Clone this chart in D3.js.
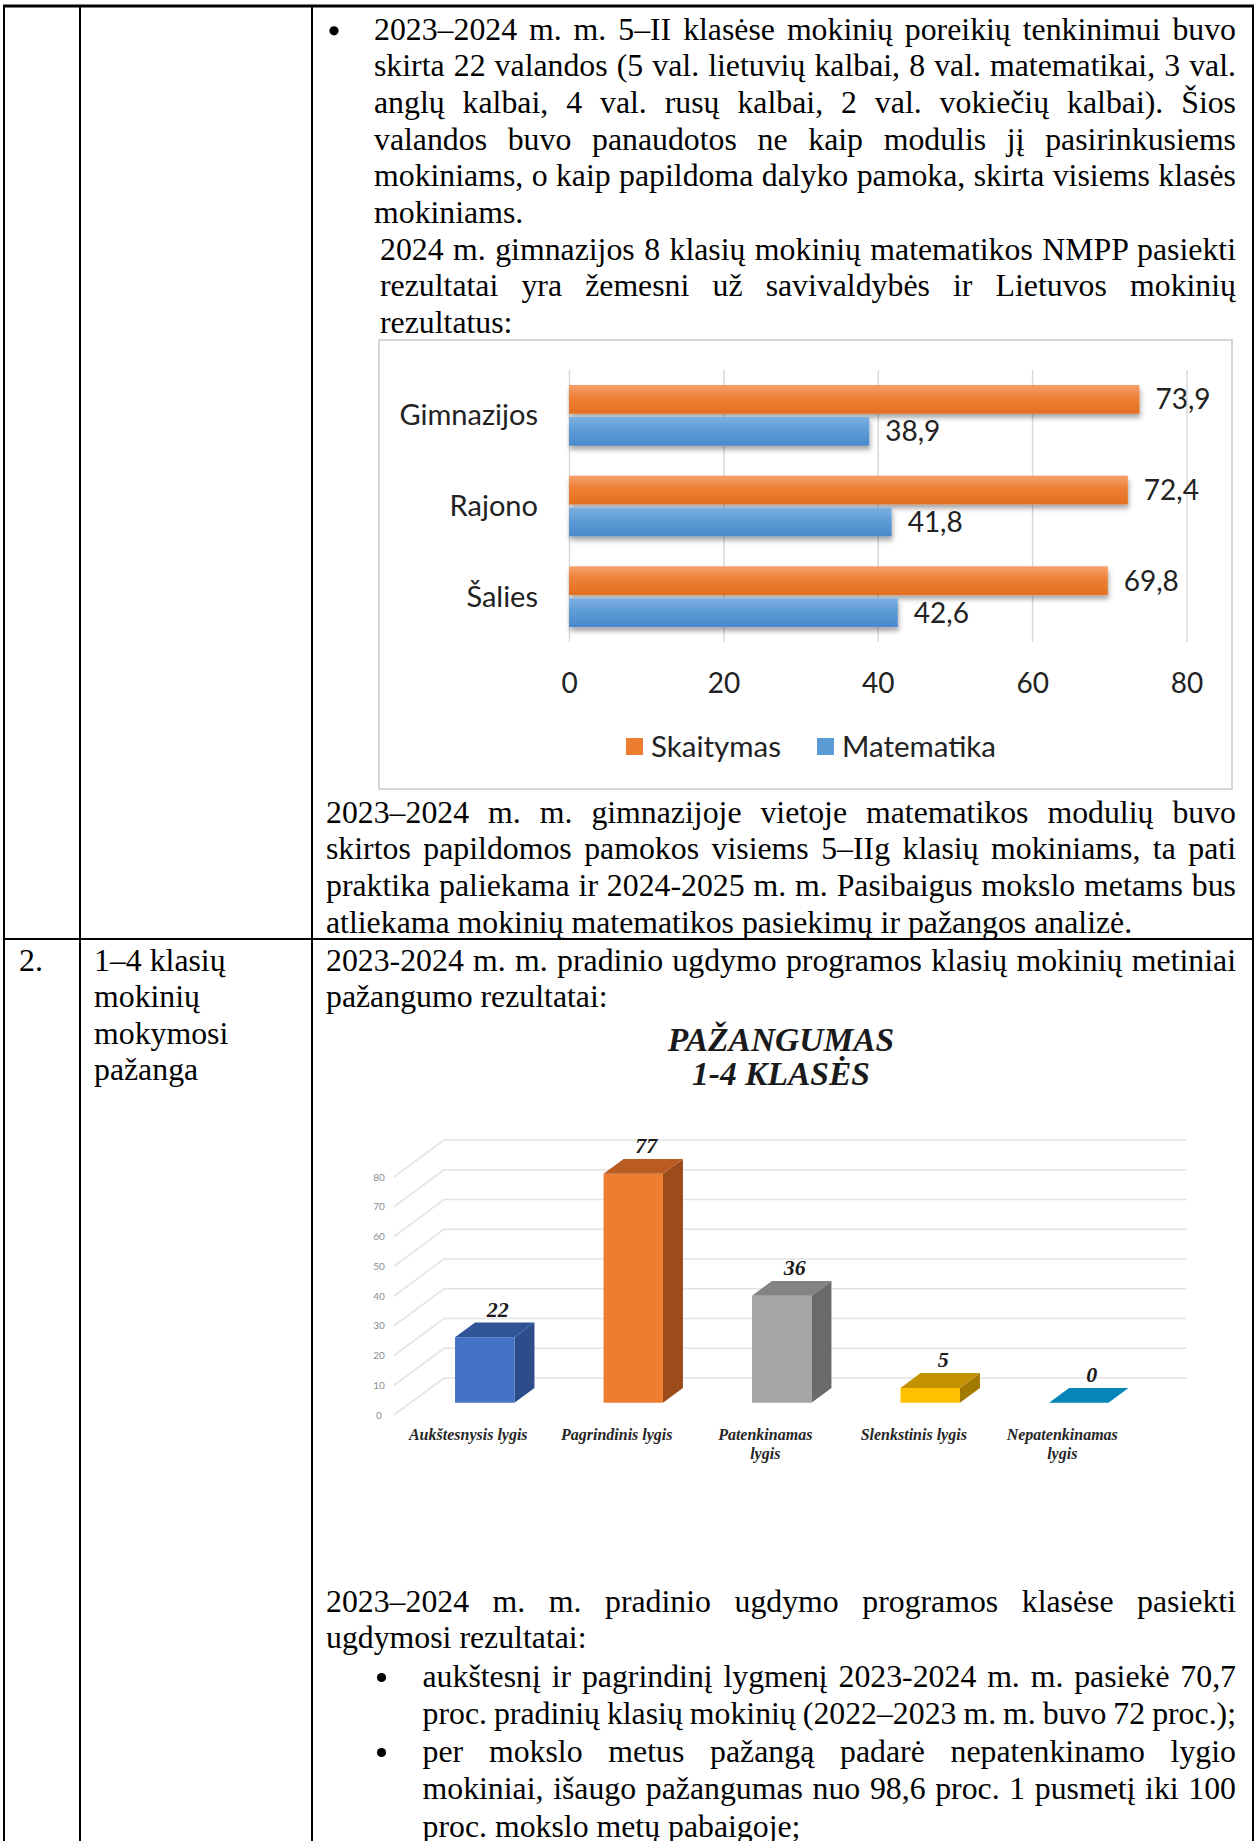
<!DOCTYPE html>
<html>
<head>
<meta charset="utf-8">
<script src="https://cdn.jsdelivr.net/npm/d3@7"></script>
<style>
  html, body { margin: 0; padding: 0; background: #fff; }
  svg { display: block; }
</style>
</head>
<body>
<script>
// ---- chart 1 data (NMPP results)
const cats1 = ["Gimnazijos", "Rajono", "Šalies"];
const series1 = ["Skaitymas", "Matematika"];
const skaitymas = [73.9, 72.4, 69.8];
const matematika = [38.9, 41.8, 42.6];
const ticks1 = [0, 20, 40, 60, 80];

// ---- chart 2 data (pažangumas 1-4 klasės)
const cats2 = ["Aukštesnysis lygis", "Pagrindinis lygis", "Patenkinamas lygis", "Slenkstinis lygis", "Nepatenkinamas lygis"];
const catLines2 = [["Aukštesnysis lygis"], ["Pagrindinis lygis"], ["Patenkinamas", "lygis"], ["Slenkstinis lygis"], ["Nepatenkinamas", "lygis"]];
const values2 = [22, 77, 36, 5, 0];
const ticks2 = [0, 10, 20, 30, 40, 50, 60, 70, 80];

// ---- document text
const para1 = [
  "2023–2024 m. m. 5–II klasėse mokinių poreikių tenkinimui buvo",
  "skirta 22 valandos (5 val. lietuvių kalbai, 8 val. matematikai, 3 val.",
  "anglų kalbai, 4 val. rusų kalbai, 2 val. vokiečių kalbai). Šios",
  "valandos buvo panaudotos ne kaip modulis jį pasirinkusiems",
  "mokiniams, o kaip papildoma dalyko pamoka, skirta visiems klasės",
  "mokiniams."
];
const para2 = [
  "2024 m. gimnazijos 8 klasių mokinių matematikos NMPP pasiekti",
  "rezultatai yra žemesni už savivaldybės ir Lietuvos mokinių",
  "rezultatus:"
];
const para3 = [
  "2023–2024 m. m. gimnazijoje vietoje matematikos modulių buvo",
  "skirtos papildomos pamokos visiems 5–IIg klasių mokiniams, ta pati",
  "praktika paliekama ir 2024-2025 m. m. Pasibaigus mokslo metams bus",
  "atliekama mokinių matematikos pasiekimų ir pažangos analizė."
];
const rowNo = "2.";
const rowTitle = ["1–4 klasių", "mokinių", "mokymosi", "pažanga"];
const para4 = [
  "2023-2024 m. m. pradinio ugdymo programos klasių mokinių metiniai",
  "pažangumo rezultatai:"
];
const para5 = [
  "2023–2024 m. m. pradinio ugdymo programos klasėse pasiekti",
  "ugdymosi rezultatai:"
];
const bullet1 = [
  "aukštesnį ir pagrindinį lygmenį 2023-2024 m. m. pasiekė 70,7",
  "proc. pradinių klasių mokinių (2022–2023 m. m. buvo 72 proc.);"
];
const bullet2 = [
  "per mokslo metus pažangą padarė nepatenkinamo lygio",
  "mokiniai, išaugo pažangumas nuo 98,6 proc. 1 pusmetį iki 100",
  "proc. mokslo metų pabaigoje;"
];

const W = 1257, H = 1841;
const serif = "'Liberation Serif', 'Times New Roman', serif";
const sans = "Lato, 'Noto Sans', sans-serif";

const svg = d3.select("body").append("svg")
  .attr("width", W).attr("height", H);

const defs = svg.append("defs");
function grad(id, stops) {
  const g = defs.append("linearGradient").attr("id", id)
    .attr("x1", 0).attr("y1", 0).attr("x2", 0).attr("y2", 1);
  stops.forEach(s => g.append("stop").attr("offset", s[0]).attr("stop-color", s[1]));
}
grad("gOr", [[0, "#F4A16C"], [0.45, "#EE7F35"], [1, "#E26F1F"]]);
grad("gBl", [[0, "#7DB0E2"], [0.45, "#5D9CD6"], [1, "#4A89CB"]]);
defs.append("filter").attr("id", "shd").attr("x", "-5%").attr("y", "-20%").attr("width", "115%").attr("height", "160%")
  .append("feDropShadow").attr("dx", 1).attr("dy", 4).attr("stdDeviation", 2.5)
  .attr("flood-color", "#000").attr("flood-opacity", 0.35);

// ---- table lines
const grid = svg.append("g").attr("stroke", "#000");
grid.append("line").attr("x1", 3).attr("x2", 1254).attr("y1", 6).attr("y2", 6).attr("stroke-width", 3);
grid.append("line").attr("x1", 4).attr("x2", 1253).attr("y1", 939).attr("y2", 939).attr("stroke-width", 2);
[4, 80, 312, 1253].forEach(x => {
  grid.append("line").attr("x1", x).attr("x2", x).attr("y1", 5).attr("y2", H).attr("stroke-width", 2);
});

// ---- text
const doc = svg.append("g")
  .attr("font-family", serif).attr("font-size", 31.8).attr("fill", "#000");

function block(lines, x, ys, right, lastJustify) {
  lines.forEach((t, i) => {
    const el = doc.append("text").attr("x", x).attr("y", ys[i]).text(t);
    if (right && (i < lines.length - 1 || lastJustify)) {
      const w = el.node().getComputedTextLength();
      const gaps = (t.match(/ /g) || []).length;
      if (gaps) el.attr("word-spacing", (right - x - w) / gaps);
    }
  });
}
const seq = (y0, step, n) => d3.range(n).map(i => y0 + step * i);

block(para1, 374, seq(39.8, 36.6, 6), 1236);
block(para2, 380, seq(259.5, 36.6, 3), 1236);
block(para3, 326, seq(822.7, 36.6, 4), 1236);
block([rowNo], 19, [970.5]);
block(rowTitle, 94, seq(970.5, 36.6, 4));
block(para4, 326, seq(970.5, 36.6, 2), 1236);
block(para5, 326, [1611.5, 1648.1], 1236);
block(bullet1, 422.5, [1686.5, 1724.1], 1236, true);
block(bullet2, 422.5, [1761.5, 1799.2, 1836.8], 1236);

[[334, 39.8 - 9], [381.5, 1686.5 - 9], [381.5, 1761.5 - 9]].forEach(b => {
  doc.append("circle").attr("cx", b[0]).attr("cy", b[1]).attr("r", 4.6).attr("fill", "#000");
});

// ---- chart 1: horizontal bars
const c1 = svg.append("g");
c1.append("rect").attr("x", 379).attr("y", 340).attr("width", 853).attr("height", 449)
  .attr("fill", "#fff").attr("stroke", "#d6d6d6").attr("stroke-width", 2);

const x1 = d3.scaleLinear().domain([0, 80]).range([569, 1186.5]);
const y1 = d3.scaleBand().domain(cats1).range([370, 642]).paddingInner(0.33).paddingOuter(0.165);
const s1 = d3.scaleBand().domain(series1).range([0, y1.bandwidth()]).paddingInner(0.1);
const fill1 = { Skaitymas: "url(#gOr)", Matematika: "url(#gBl)" };
const legendFill1 = { Skaitymas: "#ED7D31", Matematika: "#5B9BD5" };

const ax1 = c1.append("g").attr("transform", "translate(0,642)")
  .call(d3.axisBottom(x1).tickValues(ticks1).tickSize(-272).tickSizeOuter(0).tickFormat(d3.format("d")));
ax1.select(".domain").remove();
ax1.selectAll(".tick line").attr("stroke", "#d9d9d9").attr("stroke-width", 1.5);
ax1.selectAll(".tick text").attr("y", 51).attr("dy", null)
  .attr("font-family", sans).attr("font-size", 28).attr("fill", "#222");

const ay1 = c1.append("g").attr("transform", "translate(538,0)")
  .call(d3.axisLeft(y1).tickSize(0).tickPadding(0));
ay1.select(".domain").remove();
ay1.selectAll(".tick text").attr("font-family", sans).attr("font-size", 29).attr("fill", "#222").attr("dy", "0.34em");

const rows1 = cats1.map((c, i) => ({ cat: c, Skaitymas: skaitymas[i], Matematika: matematika[i] }));
const bars1 = c1.append("g");
rows1.forEach(r => {
  series1.forEach(s => {
    const yy = y1(r.cat) + s1(s);
    bars1.append("rect")
      .attr("x", x1(0)).attr("y", yy)
      .attr("width", x1(r[s]) - x1(0)).attr("height", s1.bandwidth())
      .attr("fill", fill1[s]).attr("filter", "url(#shd)");
    bars1.append("text")
      .attr("x", x1(r[s]) + 16).attr("y", yy + s1.bandwidth() / 2).attr("dy", "0.36em")
      .attr("font-family", sans).attr("font-size", 28).attr("fill", "#222")
      .text(d3.format(".1f")(r[s]).replace(".", ","));
  });
});

const leg1 = c1.append("g");
let lx = 626;
series1.forEach(s => {
  leg1.append("rect").attr("x", lx).attr("y", 738).attr("width", 17).attr("height", 17).attr("fill", legendFill1[s]);
  const t = leg1.append("text").attr("x", lx + 25).attr("y", 757)
    .attr("font-family", sans).attr("font-size", 29.5).attr("fill", "#222").text(s);
  lx += 25 + t.node().getComputedTextLength() + 36;
});

// ---- chart 2: 3D columns
const c2 = svg.append("g");
c2.append("text").attr("x", 781).attr("y", 1051).attr("text-anchor", "middle")
  .attr("font-family", serif).attr("font-size", 33.5).attr("font-weight", "bold").attr("font-style", "italic")
  .attr("fill", "#1a1a1a").text("PAŽANGUMAS");
c2.append("text").attr("x", 781).attr("y", 1085).attr("text-anchor", "middle")
  .attr("font-family", serif).attr("font-size", 33.5).attr("font-weight", "bold").attr("font-style", "italic")
  .attr("fill", "#1a1a1a").text("1-4 KLASĖS");

const xb = d3.scaleBand().domain(cats2).range([394, 1136.5]);
const h2 = d3.scaleLinear().domain([0, 80]).range([0, 238]);
const base2 = 1415, dX = 50, dY = -37;
const P = (x, v, d) => [x + dX * d, base2 - h2(v) + dY * d];
const line2 = d3.line();

const wall = c2.append("g").attr("fill", "none").attr("stroke", "#e4e4e4").attr("stroke-width", 1.6);
ticks2.forEach(v => {
  wall.append("path").attr("d", line2([P(394, v, 0), P(394, v, 1), P(1136.5, v, 1)]));
});
c2.append("g").selectAll("text").data(ticks2).join("text")
  .attr("x", 379).attr("y", v => P(394, v, 0)[1] + 3.5).attr("text-anchor", "middle")
  .attr("font-family", sans).attr("font-size", 10).attr("fill", "#8c8c8c").text(v => v);

const colors2 = [
  { f: "#4472C4", s: "#2C4D8A", t: "#2F5597" },
  { f: "#ED7D31", s: "#9C4B1B", t: "#BA5C22" },
  { f: "#A5A5A5", s: "#6A6A6A", t: "#838383" },
  { f: "#FFC000", s: "#A27A00", t: "#C29200" },
  { f: "#0585B8", s: "#035E82", t: "#0585B8" }
];
const d1 = 0.33, d2 = 0.73;
const bw = xb.bandwidth() * 0.4;
const poly = pts => "M" + pts.map(p => p.join(",")).join("L") + "Z";
const bars2 = c2.append("g");
cats2.forEach((c, i) => {
  const v = values2[i];
  const x0 = xb(c) + (xb.bandwidth() - bw) / 2;
  const col = colors2[i];
  bars2.append("path").attr("fill", col.s)
    .attr("d", poly([P(x0 + bw, 0, d1), P(x0 + bw, v, d1), P(x0 + bw, v, d2), P(x0 + bw, 0, d2)]));
  bars2.append("path").attr("fill", col.f)
    .attr("d", poly([P(x0, 0, d1), P(x0 + bw, 0, d1), P(x0 + bw, v, d1), P(x0, v, d1)]));
  bars2.append("path").attr("fill", col.t)
    .attr("d", poly([P(x0, v, d1), P(x0 + bw, v, d1), P(x0 + bw, v, d2), P(x0, v, d2)]));
  bars2.append("text")
    .attr("x", P(x0 + bw / 2, v, (d1 + d2) / 2)[0] + 3).attr("y", P(x0, v, d2)[1] - 6)
    .attr("text-anchor", "middle").attr("font-family", serif).attr("font-size", 22)
    .attr("font-weight", "bold").attr("font-style", "italic").attr("fill", "#1a1a1a").text(v);
  catLines2[i].forEach((t, k) => {
    c2.append("text").attr("x", xb(c) + xb.bandwidth() / 2).attr("y", 1440 + 19 * k)
      .attr("text-anchor", "middle").attr("font-family", serif).attr("font-size", 16)
      .attr("font-weight", "bold").attr("font-style", "italic").attr("fill", "#262626").text(t);
  });
});
</script>
</body>
</html>
